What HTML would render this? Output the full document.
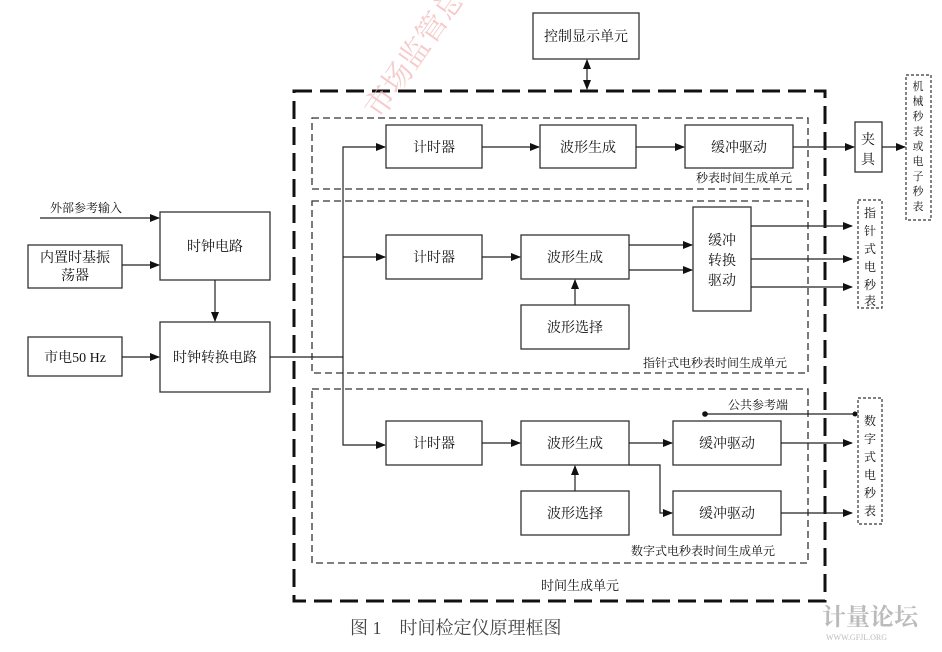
<!DOCTYPE html>
<html><head><meta charset="utf-8"><style>
body{margin:0;background:#fff;}
svg text{font-family:"Liberation Serif","Noto Serif CJK SC","Noto Sans CJK SC",serif;fill:#111;}
</style></head><body>
<svg width="942" height="647" viewBox="0 0 942 647" xmlns="http://www.w3.org/2000/svg">
<defs><marker id="a" markerWidth="10" markerHeight="8" refX="9" refY="4" orient="auto" markerUnits="userSpaceOnUse"><path d="M0,0 L10,4 L0,8 z" fill="#111"/></marker>
<marker id="b" markerWidth="10" markerHeight="8" refX="1" refY="4" orient="auto" markerUnits="userSpaceOnUse"><path d="M10,0 L0,4 L10,8 z" fill="#111"/></marker></defs>
<g stroke="#333" stroke-width="1.3" fill="#fff">
<rect x="533" y="13" width="106" height="46"/>
<rect x="28" y="245" width="94" height="43"/>
<rect x="160" y="212" width="110" height="68"/>
<rect x="160" y="322" width="110" height="70"/>
<rect x="28" y="337" width="94" height="39"/>
</g>
<rect x="294" y="91" width="531" height="510" fill="none" stroke="#111" stroke-width="3" stroke-dasharray="18,8"/>
<g fill="none" stroke="#333" stroke-width="1.3" stroke-dasharray="7,4">
<rect x="312" y="118" width="496" height="71"/>
<rect x="312" y="201" width="496" height="172"/>
<rect x="312" y="389" width="496" height="174"/>
</g>
<g fill="none" stroke="#333" stroke-width="1.2" stroke-dasharray="3,2">
<rect x="906" y="75" width="25" height="145"/>
<rect x="858" y="200" width="24" height="108"/>
<rect x="858" y="398" width="24" height="126"/>
</g>
<g stroke="#333" stroke-width="1.3" fill="#fff">
<rect x="386" y="125" width="96" height="43"/>
<rect x="540" y="125" width="96" height="43"/>
<rect x="685" y="125" width="108" height="43"/>
<rect x="855" y="122" width="27" height="50"/>
<rect x="386" y="235" width="96" height="44"/>
<rect x="521" y="235" width="108" height="44"/>
<rect x="693" y="207" width="58" height="104"/>
<rect x="521" y="305" width="108" height="44"/>
<rect x="386" y="421" width="96" height="44"/>
<rect x="521" y="421" width="108" height="44"/>
<rect x="673" y="421" width="108" height="44"/>
<rect x="673" y="491" width="108" height="44"/>
<rect x="521" y="491" width="108" height="44"/>
</g>
<g stroke="#222" stroke-width="1.2" fill="none" marker-end="url(#a)">
<line x1="587" y1="60" x2="587" y2="89" marker-start="url(#b)"/>
<line x1="40" y1="218" x2="159" y2="218"/>
<line x1="122" y1="265" x2="159" y2="265"/>
<line x1="215" y1="280" x2="215" y2="321"/>
<line x1="122" y1="357" x2="159" y2="357"/>
<polyline points="270,357 343,357 343,147 385,147"/>
<line x1="343" y1="257" x2="385" y2="257"/>
<polyline points="343,357 343,445 385,445"/>
<line x1="482" y1="147" x2="539" y2="147"/>
<line x1="636" y1="147" x2="684" y2="147"/>
<line x1="793" y1="147" x2="854" y2="147"/>
<line x1="882" y1="147" x2="905" y2="147"/>
<line x1="482" y1="257" x2="520" y2="257"/>
<line x1="629" y1="245" x2="692" y2="245"/>
<line x1="629" y1="270" x2="692" y2="270"/>
<line x1="575" y1="305" x2="575" y2="280"/>
<line x1="751" y1="226" x2="852" y2="226"/>
<line x1="751" y1="259" x2="852" y2="259"/>
<line x1="751" y1="287" x2="852" y2="287"/>
<line x1="482" y1="443" x2="520" y2="443"/>
<line x1="629" y1="443" x2="672" y2="443"/>
<line x1="575" y1="491" x2="575" y2="466"/>
<polyline points="629,465 660,465 660,513 672,513"/>
<line x1="781" y1="443" x2="852" y2="443"/>
<line x1="781" y1="513" x2="852" y2="513"/>
</g>
<line x1="705" y1="414" x2="855" y2="414" stroke="#222" stroke-width="1.2"/>
<circle cx="705" cy="414" r="2.8" fill="#111"/><circle cx="855" cy="414" r="2.5" fill="#111"/>
<g font-size="14" text-anchor="middle">
<text x="586" y="41">控制显示单元</text>
<text x="434" y="152">计时器</text><text x="588" y="152">波形生成</text><text x="739" y="152">缓冲驱动</text>
<text x="434" y="262">计时器</text><text x="575" y="262">波形生成</text><text x="575" y="332">波形选择</text>
<text x="722" y="245">缓冲</text><text x="722" y="265">转换</text><text x="722" y="285">驱动</text>
<text x="434" y="448">计时器</text><text x="575" y="448">波形生成</text><text x="727" y="448">缓冲驱动</text>
<text x="727" y="518">缓冲驱动</text><text x="575" y="518">波形选择</text>
<text x="215" y="251">时钟电路</text><text x="215" y="362">时钟转换电路</text>
<text x="75" y="262">内置时基振</text><text x="75" y="280">荡器</text>
<text x="75" y="362">市电50 Hz</text>
<text x="868" y="144">夹</text><text x="868" y="164">具</text>
</g>
<g font-size="12">
<text x="50" y="212">外部参考输入</text>
<text x="792" y="182" text-anchor="end">秒表时间生成单元</text>
<text x="787" y="367" text-anchor="end">指针式电秒表时间生成单元</text>
<text x="775" y="555" text-anchor="end">数字式电秒表时间生成单元</text>
<text x="728" y="409">公共参考端</text>
<text x="580" y="590" text-anchor="middle" font-size="13">时间生成单元</text>
</g>
<g font-size="11" text-anchor="middle">
<text x="918" y="90">机</text><text x="918" y="105">械</text><text x="918" y="120">秒</text><text x="918" y="135">表</text><text x="918" y="150">或</text><text x="918" y="165">电</text><text x="918" y="180">子</text><text x="918" y="195">秒</text><text x="918" y="210">表</text>
</g>
<g font-size="12" text-anchor="middle">
<text x="870" y="217">指</text><text x="870" y="235">针</text><text x="870" y="253">式</text><text x="870" y="271">电</text><text x="870" y="289">秒</text><text x="870" y="305">表</text>
<text x="870" y="425">数</text><text x="870" y="443">字</text><text x="870" y="461">式</text><text x="870" y="479">电</text><text x="870" y="497">秒</text><text x="870" y="515">表</text>
</g>
<text x="350" y="634" font-size="18" style="fill:#444">图 1　时间检定仪原理框图</text>
<text x="380" y="120" font-size="30" transform="rotate(-55 380 120)" style="fill:#f3b5b5" opacity="0.7">市场监管总局</text>
<text x="822" y="625" font-size="24" style="fill:#bbb" font-weight="bold">计量论坛</text>
<text x="826" y="640" font-size="8" style="fill:#bbb">WWW.GFJL.ORG</text>
</svg>
</body></html>
